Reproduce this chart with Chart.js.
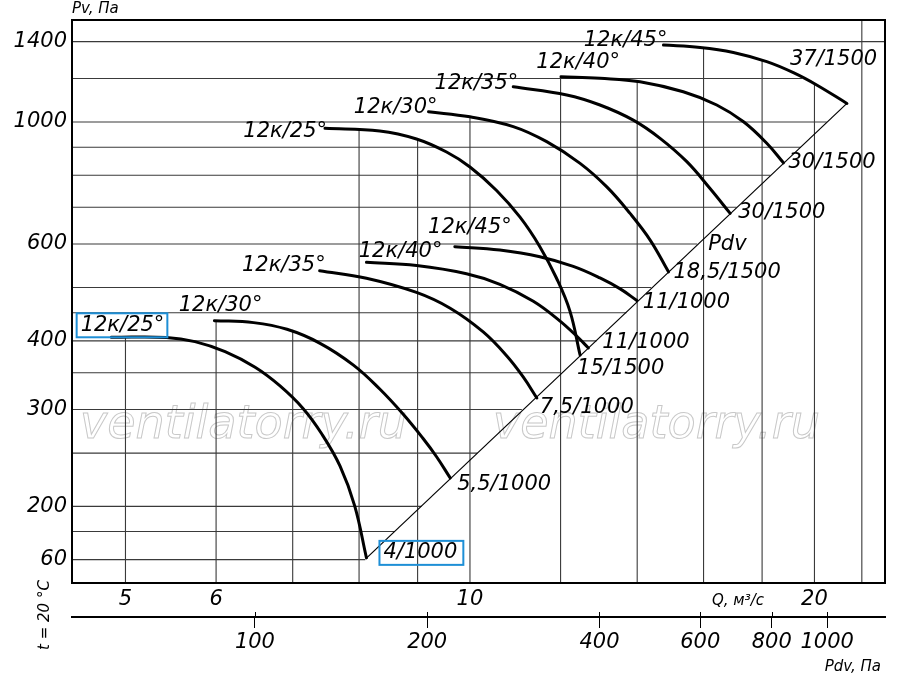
<!DOCTYPE html>
<html>
<head>
<meta charset="utf-8">
<script src="https://cdn.jsdelivr.net/npm/chart.js@4.4.1/dist/chart.umd.min.js"></script>
<style>
  html, body { margin: 0; padding: 0; background: #fff; }
  #wrap { width: 900px; height: 681px; }
</style>
</head>
<body>
<div id="wrap"><canvas id="chart"></canvas></div>
<script>
// axis limits
const qMin = 4.49, qMax = 23.05;       // Q, m3/s
const pMin = 145.1, pMax = 1533;       // Pv, Pa
const pdvMin = 47.9, pdvMax = 1262;    // Pdv, Pa

// tick labels
const yTicks = [160, 200, 300, 400, 600, 1000, 1400];
const yTickLabels = ['60', '200', '300', '400', '600', '1000', '1400'];
const qTicks = [5, 6, 7, 8, 9, 10, 12, 14, 16, 18, 20, 22];
const qTickLabels = [5, 6, 10, 20];
const pdvTicks = [100, 200, 400, 600, 800, 1000];

// grid: vertical lines start at the curve envelope, horizontal ones stop at it
const qGridTop = [406, 435, 419, 968, 931, 1022, 1209, 1186, 1364, 1294, 1170, 1600];
const pGrid = [1400, 1200, 1000, 900, 800, 700, 600, 500, 450, 400, 350, 300, 250, 200, 180, 160];
const pGridEnd = [30, 19.5, 20.5, 19.45, 18.3, 17.1, 15.8, 14.4, 13.7, 12.9, 12.0, 11.1, 10.15, 9.07, 8.6, 8.1];

// curves, 1000 rpm
const low25Q = [4.86, 5.43, 5.75, 6.11, 6.49, 6.82, 7.15, 7.42, 7.70, 7.93, 8.12];
const low25P = [406, 405.7, 398.7, 382.3, 358.1, 331.5, 301.1, 271.1, 236.7, 200.4, 161.2];
const low30Q = [5.98, 6.47, 6.92, 7.39, 7.91, 8.34, 8.74, 9.10, 9.35, 9.61];
const low30P = [435.3, 431.7, 419.8, 396.3, 361.4, 326.9, 294.4, 265.7, 246.2, 225.3];
const low35Q = [7.39, 8.12, 8.98, 9.61, 10.27, 10.77, 11.13, 11.44];
const low35P = [536.6, 520.0, 490.0, 458.6, 415.2, 375.4, 343.9, 314.9];
const low40Q = [8.12, 8.98, 9.93, 10.62, 11.36, 11.98, 12.40, 12.69];
const low40P = [555.8, 548.2, 529.7, 506.9, 472.1, 435.0, 407.7, 388.2];
const low45Q = [9.70, 10.62, 11.51, 12.31, 12.99, 13.53, 13.99];
const low45P = [593.4, 584.9, 569.0, 546.4, 520.6, 497.2, 473.7];

// curves, 1500 rpm
const up25Q = [7.47, 8.34, 8.98, 9.54, 10.0, 10.55, 11.06, 11.51, 11.90, 12.23, 12.48];
const up25P = [973.9, 963.0, 931.3, 881.9, 828.4, 750.9, 671.3, 593.4, 520.4, 452.6, 377.0];
const up30Q = [9.20, 10.0, 10.91, 11.67, 12.48, 13.17, 13.80, 14.37, 14.91];
const up30P = [1044, 1022, 981, 921, 841, 762, 682, 610, 534];
const up35Q = [10.91, 12.15, 12.99, 13.89, 14.66, 15.47, 16.21, 16.88];
const up35P = [1159, 1120, 1074, 1008, 934, 847, 757, 682];
const up40Q = [12.01, 12.99, 14.08, 15.36, 16.43, 17.34, 18.17, 18.79];
const up40P = [1209, 1201, 1184, 1135, 1074, 1001, 915, 843];
const up45Q = [14.76, 15.89, 16.99, 18.17, 19.17, 20.09, 21.35];
const up45P = [1380, 1366.6, 1338.3, 1287.6, 1229.5, 1167.8, 1081];

// line through the curve ends
const edgeQ = [8.12, 21.35];
const edgeP = [161, 1081];

const curves = [
  { q: low25Q, p: low25P, from: '12к/25°', to: '4/1000' },
  { q: low30Q, p: low30P, from: '12к/30°', to: '5,5/1000' },
  { q: low35Q, p: low35P, from: '12к/35°', to: '7,5/1000' },
  { q: low40Q, p: low40P, from: '12к/40°', to: '11/1000' },
  { q: low45Q, p: low45P, from: '12к/45°', to: '11/1000' },
  { q: up25Q, p: up25P, from: '12к/25°', to: '15/1500' },
  { q: up30Q, p: up30P, from: '12к/30°', to: '18,5/1500' },
  { q: up35Q, p: up35P, from: '12к/35°', to: '30/1500' },
  { q: up40Q, p: up40P, from: '12к/40°', to: '30/1500' },
  { q: up45Q, p: up45P, from: '12к/45°', to: '37/1500' }
];

// label placement in px relative to curve start (right aligned) / end (left aligned)
const labelLayout = [
  { s: [53, -12], e: [17, -5], box: true },
  { s: [48, -15], e: [7, 7] },
  { s: [6, -5], e: [3, 10] },
  { s: [76, -11], e: [14, -5] },
  { s: [57, -19], e: [6, 2] },
  { s: [2, 3], e: [-3, 14] },
  { s: [9, -4], e: [5, 1] },
  { s: [5, -3], e: [8, -1] },
  { s: [59, -14], e: [5, 0] },
  { s: [4, -5], e: [-57, -44] }
];

const FONT = 'DejaVu Sans';
const gridColor = '#3a3a3a';
const boxColor = '#1e8fd6';

const pts = (q, p) => q.map((v, i) => ({ x: v, y: p[i] }));

const datasets = [];
qTicks.forEach((q, i) => {
  datasets.push({ data: [{ x: q, y: qGridTop[i] }, { x: q, y: 120 }],
    borderColor: gridColor, borderWidth: 1.1, pointRadius: 0, order: 3 });
});
pGrid.forEach((p, i) => {
  datasets.push({ data: [{ x: 4, y: p }, { x: pGridEnd[i], y: p }],
    borderColor: gridColor, borderWidth: 1.1, pointRadius: 0, order: 3 });
});
datasets.push({ data: pts(edgeQ, edgeP), borderColor: '#000', borderWidth: 1.2, pointRadius: 0, order: 2 });
curves.forEach(c => {
  datasets.push({ data: pts(c.q, c.p), borderColor: '#000', borderWidth: 3, pointRadius: 0,
    tension: 0.4, borderCapStyle: 'round', order: 1 });
});

const extras = {
  id: 'extras',
  beforeDatasetsDraw(chart) {
    const ctx = chart.ctx;
    ctx.save();
    ctx.font = 'italic 46px "' + FONT + '"';
    ctx.strokeStyle = '#c8c8c8';
    ctx.lineWidth = 1;
    ctx.textBaseline = 'alphabetic';
    ctx.strokeText('ventilatorry.ru', 80, 438);
    ctx.strokeText('ventilatorry.ru', 493, 438);
    ctx.restore();
  },
  afterDatasetsDraw(chart) {
    const ctx = chart.ctx;
    const xs = chart.scales.x, ys = chart.scales.y, x2 = chart.scales.x2;
    const a = chart.chartArea;
    ctx.save();
    // frame
    ctx.strokeStyle = '#000';
    ctx.lineWidth = 2;
    ctx.strokeRect(a.left, a.top, a.right - a.left, a.bottom - a.top);
    // Pdv ticks crossing the line
    ctx.lineWidth = 1;
    pdvTicks.forEach(v => {
      const px = Math.round(x2.getPixelForValue(v)) + 0.5;
      ctx.beginPath();
      ctx.moveTo(px, x2.top - 5);
      ctx.lineTo(px, x2.top);
      ctx.stroke();
    });
    // curve labels
    ctx.fillStyle = '#000';
    ctx.font = 'italic 21px "' + FONT + '"';
    ctx.textBaseline = 'middle';
    curves.forEach((c, i) => {
      const L = labelLayout[i];
      const sx = xs.getPixelForValue(c.q[0]), sy = ys.getPixelForValue(c.p[0]);
      const n = c.q.length - 1;
      const ex = xs.getPixelForValue(c.q[n]), ey = ys.getPixelForValue(c.p[n]);
      const tx = sx + L.s[0], ty = sy + L.s[1];
      ctx.textAlign = 'right';
      ctx.fillText(c.from, tx, ty);
      const ux = ex + L.e[0], uy = ey + L.e[1];
      ctx.textAlign = 'left';
      ctx.fillText(c.to, ux, uy);
      if (L.box) {
        ctx.strokeStyle = boxColor;
        ctx.lineWidth = 2;
        const w1 = ctx.measureText(c.from).width;
        ctx.strokeRect(tx - w1 - 4, ty - 12, w1 + 7, 24);
        const w2 = ctx.measureText(c.to).width;
        ctx.strokeRect(ux - 4, uy - 12, w2 + 10, 24);
      }
    });
    // "Pdv" along the edge line
    const r = curves[7], k = r.q.length - 1;
    ctx.textAlign = 'left';
    ctx.fillText('Pdv', xs.getPixelForValue(r.q[k]) - 22, ys.getPixelForValue(r.p[k]) + 31);
    // axis names
    ctx.font = 'italic 15px "' + FONT + '"';
    ctx.textAlign = 'left';
    ctx.fillText('Pv, Па', a.left, 9);
    ctx.fillText('Q, м³/с', 712, 601);
    ctx.textAlign = 'right';
    ctx.fillText('Pdv, Па', 881, 667);
    ctx.translate(45, 615);
    ctx.rotate(-Math.PI / 2);
    ctx.textAlign = 'center';
    ctx.fillText('t = 20 °C', 0, 0);
    ctx.restore();
  }
};

const tickFont = { family: FONT, style: 'italic', size: 21 };

new Chart(document.getElementById('chart'), {
  type: 'line',
  data: { datasets },
  options: {
    responsive: true,
    maintainAspectRatio: false,
    animation: false,
    layout: { padding: { top: 20, right: 15, left: 0, bottom: 0 } },
    plugins: { legend: { display: false }, tooltip: { enabled: false } },
    scales: {
      x: {
        type: 'logarithmic', position: 'bottom', weight: 0,
        min: qMin, max: qMax,
        afterBuildTicks: s => { s.ticks = qTicks.map(v => ({ value: v })); },
        afterFit: s => { s.height = 34; },
        grid: { drawOnChartArea: false, drawTicks: false },
        border: { display: true, color: '#000', width: 2 },
        ticks: {
          autoSkip: false, maxRotation: 0, minRotation: 0, padding: 4,
          color: '#000', font: tickFont,
          callback: v => qTickLabels.includes(v) ? String(v) : ''
        }
      },
      x2: {
        type: 'logarithmic', position: 'bottom', weight: 1,
        min: pdvMin, max: pdvMax,
        afterBuildTicks: s => { s.ticks = pdvTicks.map(v => ({ value: v })); },
        afterFit: s => { s.height = 64; },
        grid: { drawOnChartArea: false, drawTicks: true, tickLength: 11, color: '#000', lineWidth: 1 },
        border: { display: true, color: '#000', width: 2 },
        ticks: {
          autoSkip: false, maxRotation: 0, minRotation: 0, padding: 2,
          color: '#000', font: tickFont,
          callback: v => String(v)
        }
      },
      y: {
        type: 'logarithmic', position: 'left',
        min: pMin, max: pMax,
        afterBuildTicks: s => { s.ticks = yTicks.map(v => ({ value: v })); },
        afterFit: s => { s.width = 72; },
        grid: { drawOnChartArea: false, drawTicks: false },
        border: { display: true, color: '#000', width: 2 },
        ticks: {
          autoSkip: false, padding: 5, color: '#000', font: tickFont,
          callback: v => { const i = yTicks.indexOf(v); return i < 0 ? '' : yTickLabels[i]; }
        }
      }
    }
  },
  plugins: [extras]
});
</script>
</body>
</html>
